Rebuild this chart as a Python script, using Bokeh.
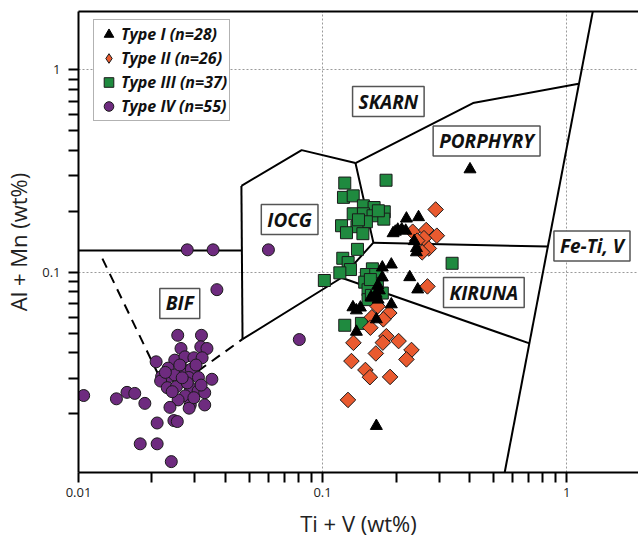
import math
from bokeh.plotting import figure
from bokeh.models import (Label, Legend, LegendItem, FixedTicker, LogAxis,
                          CustomJSTickFormatter)
from bokeh.embed import file_html
from bokeh.resources import INLINE

# ---------------- data (wt%) ----------------
type1_x = [0.4019, 0.2206, 0.2473, 0.1945, 0.2033, 0.2111, 0.2191, 0.2374, 0.2425, 0.2424,
           0.1913, 0.1757, 0.2276, 0.2454, 0.1757, 0.1685, 0.1657, 0.1580, 0.1689, 0.1913,
           0.1332, 0.1429, 0.1661, 0.1376, 0.1661, 0.1986, 0.1709, 0.1376]
type1_y = [0.3222, 0.1841, 0.1870, 0.1558, 0.1622, 0.1627, 0.1603, 0.1424, 0.1315, 0.1254,
           0.1091, 0.1055, 0.0945, 0.0822, 0.0942, 0.0860, 0.0783, 0.0754, 0.0732, 0.0694,
           0.0671, 0.0669, 0.0585, 0.0508, 0.0174, 0.1585, 0.0813, 0.0648]

type2_x = [0.2906, 0.2340, 0.2658, 0.2939, 0.2603, 0.2726, 0.2560, 0.2441, 0.2690, 0.1681,
           0.1877, 0.1592, 0.1774, 0.1570, 0.1825, 0.1766, 0.2049, 0.1338, 0.2314, 0.1653,
           0.2206, 0.1313, 0.1498, 0.1563, 0.1891, 0.1271]
type2_y = [0.2041, 0.1585, 0.1616, 0.1515, 0.1473, 0.1310, 0.1254, 0.1432, 0.0851, 0.0678,
           0.0629, 0.0599, 0.0585, 0.0532, 0.0483, 0.0449, 0.0457, 0.0448, 0.0413, 0.0397,
           0.0371, 0.0364, 0.0329, 0.0303, 0.0304, 0.0234]

type3_x = [0.1233, 0.1820, 0.1218, 0.1335, 0.1470, 0.1626, 0.1790, 0.1335, 0.1470, 0.1610,
           0.1782, 0.1512, 0.1196, 0.1383, 0.1253, 0.1463, 0.1390, 0.1210, 0.1273, 0.1301,
           0.1177, 0.1017, 0.3394, 0.1600, 0.1512, 0.1651, 0.1488, 0.1677, 0.1536, 0.1757,
           0.1536, 0.1233, 0.1443, 0.1403, 0.1693, 0.1570, 0.1585]
type3_y = [0.2757, 0.2847, 0.2343, 0.2383, 0.2128, 0.2087, 0.1988, 0.1944, 0.1944, 0.1900,
           0.1829, 0.1775, 0.1697, 0.1678, 0.1567, 0.1550, 0.1297, 0.1172, 0.1116, 0.1031,
           0.0993, 0.0910, 0.1107, 0.1039, 0.0974, 0.0974, 0.0893, 0.0880, 0.0819, 0.0789,
           0.0732, 0.0547, 0.0559, 0.1815, 0.2011, 0.0920, 0.0768]

type4_x = [0.0279, 0.0356, 0.0369, 0.0105, 0.0143, 0.0158, 0.0170, 0.0187, 0.0210, 0.0179,
           0.0210, 0.0240, 0.0246, 0.0254, 0.0600, 0.0803,
           0.0255, 0.0319, 0.0263, 0.0317, 0.0336, 0.0208, 0.0248, 0.0273, 0.0297, 0.0321,
           0.0233, 0.0270, 0.0290, 0.0219, 0.0235, 0.0248, 0.0283, 0.0310, 0.0352, 0.0217,
           0.0231, 0.0252, 0.0287, 0.0309, 0.0329, 0.0274, 0.0256, 0.0287, 0.0284, 0.0329,
           0.0237, 0.0227, 0.0260, 0.0279, 0.0303, 0.0242, 0.0318, 0.0266, 0.0297]
type4_y = [0.129, 0.129, 0.082, 0.0246, 0.0237, 0.0255, 0.0252, 0.0225, 0.0180, 0.0142,
           0.0142, 0.0116, 0.0185, 0.0183, 0.129, 0.0465,
           0.0488, 0.0488, 0.0420, 0.0428, 0.0420, 0.0361, 0.0368, 0.0382, 0.0378, 0.0378,
           0.0336, 0.0332, 0.0332, 0.0305, 0.0305, 0.0311, 0.0302, 0.0302, 0.0296, 0.0290,
           0.0269, 0.0272, 0.0269, 0.0259, 0.0254, 0.0245, 0.0234, 0.0221, 0.0213, 0.0221,
           0.0215, 0.0320, 0.0348, 0.0284, 0.0348, 0.0257, 0.0277, 0.0301, 0.0240]

series_labels = ["Type I (n=28)", "Type II (n=26)", "Type III (n=37)", "Type IV (n=55)"]

# field boundaries of the discrimination diagram (Ti+V, Al+Mn)
solid_xs = [
    [0.01, 0.0465],
    [0.0465, 0.047],
    [0.0465, 0.0821, 0.1364],
    [0.1364, 0.4134, 1.12],
    [0.1364, 0.1615, 0.1196, 0.047],
    [0.1615, 0.838],
    [0.1196, 0.704],
    [0.546, 1.296],
]
solid_ys = [
    [0.128, 0.128],
    [0.267, 0.0467],
    [0.267, 0.401, 0.346],
    [0.346, 0.685, 0.853],
    [0.346, 0.140, 0.0939, 0.0467],
    [0.140, 0.1338],
    [0.0939, 0.0445],
    [0.009, 2.1],
]
dashed_x = [0.01253, 0.0231, 0.047]
dashed_y = [0.1168, 0.0253, 0.0467]

field_names = ["SKARN", "PORPHYRY", "IOCG", "Fe-Ti, V", "KIRUNA", "BIF"]
field_x = [0.186, 0.470, 0.0733, 1.27, 0.458, 0.0260]
field_y = [0.697, 0.445, 0.182, 0.1347, 0.0794, 0.0701]

x_major_ticks = [0.01, 0.1, 1]
x_minor_ticks = [0.02, 0.03, 0.04, 0.05, 0.06, 0.07, 0.08, 0.09,
                 0.2, 0.3, 0.4, 0.5, 0.6, 0.7, 0.8, 0.9]
y_major_ticks = [0.1, 1]
y_minor_ticks = [0.02, 0.03, 0.04, 0.05, 0.06, 0.07, 0.08, 0.09,
                 0.2, 0.3, 0.4, 0.5, 0.6, 0.7, 0.8, 0.9]

FONT = "Open Sans"

p = figure(width=638, height=540, x_axis_type="log", y_axis_type="log",
           x_range=(0.01, 1.97), y_range=(0.01025, 1.94),
           output_backend="svg", toolbar_location=None,
           min_border_left=76, min_border_right=0, min_border_top=11, min_border_bottom=68)
p.outline_line_color = None
p.background_fill_color = "white"

p.xaxis.ticker = FixedTicker(ticks=x_major_ticks, minor_ticks=x_minor_ticks)
p.yaxis.ticker = FixedTicker(ticks=y_major_ticks, minor_ticks=y_minor_ticks)
p.xgrid.ticker = FixedTicker(ticks=x_major_ticks)
p.ygrid.ticker = FixedTicker(ticks=y_major_ticks)
p.xaxis.formatter = CustomJSTickFormatter(code="return tick.toString();")
p.yaxis.formatter = CustomJSTickFormatter(code="return tick.toString();")

p.xaxis.axis_line_width = 2
p.yaxis.axis_line_width = 2
p.xaxis.axis_line_color = "black"
p.yaxis.axis_line_color = "black"
p.xaxis.major_tick_line_width = 2
p.yaxis.major_tick_line_width = 2
p.xaxis.minor_tick_line_width = 2
p.yaxis.minor_tick_line_width = 2
p.xaxis.major_tick_line_color = "black"
p.yaxis.major_tick_line_color = "black"
p.xaxis.minor_tick_line_color = "black"
p.yaxis.minor_tick_line_color = "black"
p.xaxis.major_tick_out = 10
p.yaxis.major_tick_out = 10
p.xaxis.major_tick_in = 0
p.yaxis.major_tick_in = 0
p.xaxis.minor_tick_out = 10
p.yaxis.minor_tick_out = 10
p.xaxis.minor_tick_in = 0
p.yaxis.minor_tick_in = 0

for ax in (p.xaxis[0], p.yaxis[0]):
    ax.major_label_text_font = FONT
    ax.major_label_text_font_size = "13px"
    ax.major_label_text_color = "#222222"
    ax.axis_label_text_font = FONT
    ax.axis_label_text_font_size = "22px"
    ax.axis_label_text_font_style = "normal"
    ax.axis_label_text_color = "#222222"

p.xaxis.axis_label = "Ti + V (wt%)"
p.yaxis.axis_label = "Al + Mn (wt%)"
p.xaxis.major_label_standoff = 5
p.xaxis.axis_label_standoff = 8
p.yaxis.major_label_standoff = 8
p.yaxis.axis_label_standoff = 6

top_axis = LogAxis(ticker=FixedTicker(ticks=[]), major_tick_out=0, major_tick_in=0,
                   minor_tick_out=0, minor_tick_in=0, major_label_standoff=0,
                   axis_line_width=2, axis_line_color="black")
p.add_layout(top_axis, "above")

p.grid.grid_line_color = "#9a9a9a"
p.grid.grid_line_dash = "2 2"
p.grid.grid_line_width = 1

# field boundaries
p.multi_line(xs=solid_xs, ys=solid_ys, line_color="black", line_width=2)
p.line(dashed_x, dashed_y, line_color="black", line_width=2, line_dash="10 7")

# data points
r4 = p.scatter(type4_x, type4_y, marker="circle", size=12, fill_color="#6E2B7F",
               line_color="#1a1a1a", line_width=1)
r3 = p.scatter(type3_x, type3_y, marker="square", size=12, fill_color="#1F8A3F",
               line_color="#1a1a1a", line_width=1)
r2 = p.scatter(type2_x, type2_y, marker="square", angle=math.pi / 4, size=11,
               fill_color="#E95A2F", line_color="#1a1a1a", line_width=1)
r1 = p.scatter(type1_x, type1_y, marker="triangle", size=12, fill_color="black",
               line_color="black", line_width=1)
# hidden twin of Type II, used only for its legend key (a diamond)
r2_key = p.scatter(type2_x, type2_y, marker="diamond", size=12, fill_color="#E95A2F",
                   line_color="#1a1a1a", line_width=1, visible=False)

# field labels
for name, fx, fy in zip(field_names, field_x, field_y):
    p.add_layout(Label(x=fx, y=fy, text=name, text_align="center", text_baseline="middle",
                       text_font=FONT, text_font_style="bold italic", text_font_size="19px",
                       text_color="#111111", background_fill_color="white",
                       border_line_color="#555555", border_line_width=1.5,
                       padding=dict(left=6, right=6, top=2, bottom=2)))

legend = Legend(items=[LegendItem(label=series_labels[0], renderers=[r1]),
                       LegendItem(label=series_labels[1], renderers=[r2_key]),
                       LegendItem(label=series_labels[2], renderers=[r3]),
                       LegendItem(label=series_labels[3], renderers=[r4])],
                location=(15, 351), orientation="vertical",
                glyph_width=25, glyph_height=24, label_height=24, spacing=0, padding=2,
                label_standoff=0, margin=0, inactive_fill_alpha=0.0,
                label_text_font=FONT, label_text_font_style="bold italic",
                label_text_font_size="16px", label_text_color="#111111",
                border_line_color="#666666", border_line_width=1.5,
                background_fill_color="white", background_fill_alpha=1.0)
p.add_layout(legend, "center")

open("out.html", "w").write(file_html(p, INLINE))
